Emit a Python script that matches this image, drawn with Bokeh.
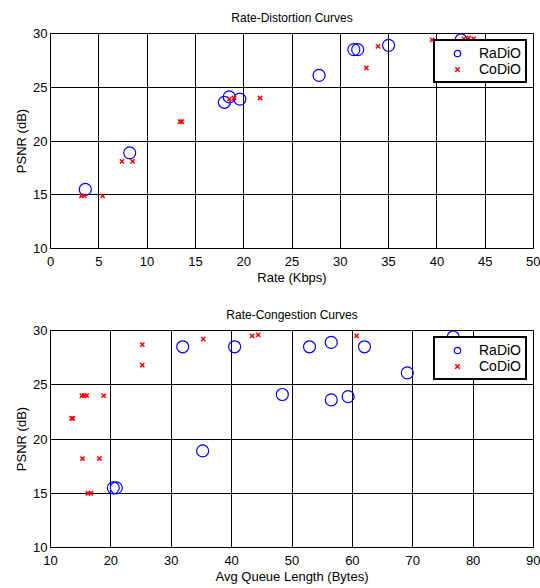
from bokeh.plotting import figure
from bokeh.layouts import column
from bokeh.models import Range1d, FixedTicker, Legend, LegendItem
from bokeh.embed import file_html
from bokeh.resources import INLINE

# ---- Data: Rate-Distortion ----
rd_radio_rate = [3.6, 8.2, 18.0, 18.5, 19.6, 27.8, 31.4, 31.8, 35.0, 42.5]
rd_radio_psnr = [15.5, 18.9, 23.6, 24.1, 23.9, 26.1, 28.5, 28.5, 28.9, 29.4]
rd_codio_rate = [3.2, 3.5, 5.4, 7.4, 8.5, 13.4, 13.6, 18.5, 19.0, 21.7, 32.7, 33.9, 39.5, 42.8, 43.3, 43.8]
rd_codio_psnr = [14.9, 14.9, 14.9, 18.1, 18.1, 21.8, 21.8, 23.9, 24.0, 24.0, 26.8, 28.8, 29.4, 29.5, 29.6, 29.5]

# ---- Data: Rate-Congestion ----
rc_radio_queue = [20.4, 20.9, 35.2, 48.4, 56.5, 59.3, 69.1, 31.9, 40.5, 52.9, 56.5, 62.0, 76.7]
rc_radio_psnr = [15.5, 15.5, 18.9, 24.1, 23.6, 23.9, 26.1, 28.5, 28.5, 28.5, 28.9, 28.5, 29.4]
rc_codio_queue = [16.2, 16.7, 15.3, 18.1, 13.5, 13.7, 15.2, 15.6, 16.0, 18.8, 25.2, 25.2, 35.3, 43.4, 44.4, 60.7]
rc_codio_psnr = [15.0, 15.0, 18.2, 18.2, 21.9, 21.9, 24.0, 24.0, 24.0, 24.0, 26.8, 28.7, 29.2, 29.5, 29.6, 29.5]

rd_xticks = [0, 5, 10, 15, 20, 25, 30, 35, 40, 45, 50]
rc_xticks = [10, 20, 30, 40, 50, 60, 70, 80, 90]
yticks = [10, 15, 20, 25, 30]

FONT = "Liberation Sans"


def make_fig(title, xlabel, xr, xticks, xs_r, ys_r, xs_c, ys_c, top, bottom, h):
    p = figure(width=540, height=h, output_backend="svg", toolbar_location=None,
               x_range=Range1d(*xr), y_range=Range1d(10, 30),
               min_border_left=50, min_border_right=7,
               min_border_top=top, min_border_bottom=bottom)
    p.title.text = title
    p.title.align = "center"
    p.title.text_font = FONT
    p.title.text_font_style = "normal"
    p.title.text_font_size = "12px"
    p.title.text_color = "black"
    p.title.standoff = 17
    p.background_fill_color = "white"
    p.border_fill_color = "white"
    p.outline_line_color = "black"
    p.outline_line_width = 1
    p.outline_line_alpha = 1
    for ax in (p.xaxis[0], p.yaxis[0]):
        ax.axis_line_color = "black"
        ax.major_tick_in = 0
        ax.major_tick_out = 0
        ax.minor_tick_line_color = None
        ax.major_label_text_font = FONT
        ax.major_label_text_font_size = "13px"
        ax.major_label_text_color = "black"
        ax.axis_label_text_font = FONT
        ax.axis_label_text_font_size = "13px"
        ax.axis_label_text_font_style = "normal"
        ax.axis_label_text_color = "black"
        ax.axis_label_standoff = 1
    p.xaxis[0].major_label_standoff = 8
    p.yaxis[0].major_label_standoff = 3
    p.xaxis[0].ticker = FixedTicker(ticks=xticks)
    p.yaxis[0].ticker = FixedTicker(ticks=yticks)
    p.xaxis[0].axis_label = xlabel
    p.yaxis[0].axis_label = "PSNR (dB)"
    for g in (p.xgrid[0], p.ygrid[0]):
        g.grid_line_color = "black"
        g.grid_line_alpha = 1
        g.grid_line_width = 1
    r1 = p.scatter(xs_r, ys_r, marker="circle", size=12, fill_color=None,
                   line_color="blue", line_width=1.2)
    r2 = p.scatter(xs_c, ys_c, marker="x", size=6, line_color="red", line_width=1.5)
    leg = Legend(items=[LegendItem(label="RaDiO", renderers=[r1]),
                        LegendItem(label="CoDiO", renderers=[r2])],
                 location="top_right")
    leg.margin = 6
    leg.padding = 4
    leg.spacing = 0
    leg.border_line_color = "black"
    leg.border_line_width = 2
    leg.border_line_alpha = 1
    leg.background_fill_color = "white"
    leg.background_fill_alpha = 1
    leg.label_text_font = FONT
    leg.label_text_font_size = "14px"
    leg.label_text_color = "black"
    leg.label_height = 16
    leg.glyph_height = 16
    leg.glyph_width = 36
    leg.label_standoff = 4
    p.add_layout(leg, "center")
    return p


p1 = make_fig("Rate-Distortion Curves", "Rate (Kbps)", (0, 50), rd_xticks,
              rd_radio_rate, rd_radio_psnr, rd_codio_rate, rd_codio_psnr, 33, 46, 294)
p2 = make_fig("Rate-Congestion Curves", "Avg Queue Length (Bytes)", (10, 90), rc_xticks,
              rc_radio_queue, rc_radio_psnr, rc_codio_queue, rc_codio_psnr, 36, 41, 294)

p = column(p1, p2, spacing=0)
open("out.html", "w").write(file_html(p, INLINE))
